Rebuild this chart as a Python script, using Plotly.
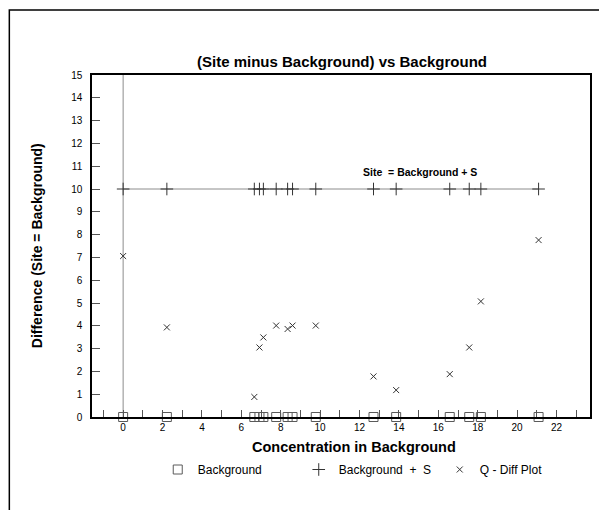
import plotly.graph_objects as go

# Data
background = [0.0, 2.22, 6.66, 6.92, 7.12, 7.77, 8.35, 8.60, 9.78, 12.71, 13.86, 16.58, 17.57, 18.16, 21.09]
q_diff = [7.06, 3.93, 0.88, 3.05, 3.49, 4.01, 3.86, 4.01, 4.01, 1.78, 1.18, 1.88, 3.05, 5.07, 7.76]
S = 10
bg_level = [0 for _ in background]
bg_plus_s = [S for _ in background]

x_ticks = [0, 2, 4, 6, 8, 10, 12, 14, 16, 18, 20, 22]
y_ticks = list(range(0, 16))

FONT = "Liberation Sans, Arial, Helvetica, sans-serif"

fig = go.Figure()

# reference lines
fig.add_trace(go.Scatter(x=[0, 0], y=[0, 15], mode="lines",
                         line=dict(color="#8c8c8c", width=1),
                         showlegend=False, hoverinfo="skip"))
fig.add_trace(go.Scatter(x=[0, max(background)], y=[S, S], mode="lines",
                         line=dict(color="#8c8c8c", width=1),
                         showlegend=False, hoverinfo="skip"))

fig.add_trace(go.Scatter(x=background, y=bg_level, mode="markers",
                         name="Background", cliponaxis=False,
                         marker=dict(symbol="square-open", size=9,
                                     color="#5a5a5a", line=dict(width=1, color="#5a5a5a"))))
fig.add_trace(go.Scatter(x=background, y=bg_plus_s, mode="markers",
                         name="Background  +  S", cliponaxis=False,
                         marker=dict(symbol="cross-thin-open", size=9,
                                     color="#333333", line=dict(width=1, color="#333333"))))
fig.add_trace(go.Scatter(x=background, y=q_diff, mode="markers",
                         name="Q - Diff Plot", cliponaxis=False,
                         marker=dict(symbol="x-thin-open", size=6,
                                     color="#333333", line=dict(width=1, color="#333333"))))

fig.add_annotation(x=15.06, y=10.76, xref="x", yref="y",
                   text="<b>Site  = Background + S</b>", showarrow=False,
                   xanchor="center", yanchor="middle",
                   font=dict(family=FONT, size=10.5, color="black"))

# axis titles
fig.add_annotation(x=(37 - 92) / 500, y=0.5, xref="paper", yref="paper",
                   text="<b>Difference (Site = Background)</b>", textangle=-90,
                   xanchor="center", yanchor="middle",
                   showarrow=False, font=dict(family=FONT, size=14, color="black"))
fig.add_annotation(x=(355 - 92) / 500, y=-(447 - 417) / 342, xref="paper", yref="paper",
                   text="<b>Concentration in Background</b>",
                   xanchor="center", yanchor="middle",
                   showarrow=False, font=dict(family=FONT, size=14.5, color="black"))

# outer frame
fig.add_shape(type="rect", xref="paper", yref="paper",
              x0=(9 - 92) / 500, x1=(620 - 92) / 500,
              y0=-(93 + 20) / 342, y1=1 + (75 - 10) / 342,
              line=dict(color="black", width=1.5), layer="below")

fig.update_layout(
    width=599, height=510,
    margin=dict(l=92, r=7, t=75, b=93),
    paper_bgcolor="white", plot_bgcolor="white",
    font=dict(family=FONT, size=10, color="black"),
    title=dict(text="<b>(Site minus Background) vs Background</b>",
               x=342 / 599, xanchor="center", y=1 - 62 / 510, yanchor="middle",
               font=dict(family=FONT, size=15, color="black")),
    legend=dict(orientation="h", x=(158 - 92) / 500, xanchor="left", y=-(455 - 417) / 342, yanchor="top",
                font=dict(family=FONT, size=12, color="black"),
                entrywidth=96, entrywidthmode="pixels",
                bgcolor="rgba(0,0,0,0)"),
    showlegend=True,
)

fig.update_xaxes(range=[-1.58, 23.7], tickvals=x_ticks, ticks="inside", ticklen=7,
                 tickcolor="#555555", showgrid=False, zeroline=False,
                 showline=True, linecolor="black", linewidth=1.5, mirror=True,
                 minor=dict(dtick=1, tick0=0, ticks="inside", ticklen=7, tickcolor="#555555", showgrid=False),
                 tickfont=dict(family=FONT, size=10, color="black"))
fig.update_yaxes(range=[0, 15], tickvals=y_ticks, ticks="inside", ticklen=8,
                 tickcolor="#555555", showgrid=False, zeroline=False,
                 showline=True, linecolor="black", linewidth=1.5, mirror=True,
                 ticklabelstandoff=6,
                 tickfont=dict(family=FONT, size=10, color="black"))

fig.write_html("out.html", config={"displayModeBar": False},
               post_script="document.body.style.margin='0';document.body.style.overflow='hidden';")
